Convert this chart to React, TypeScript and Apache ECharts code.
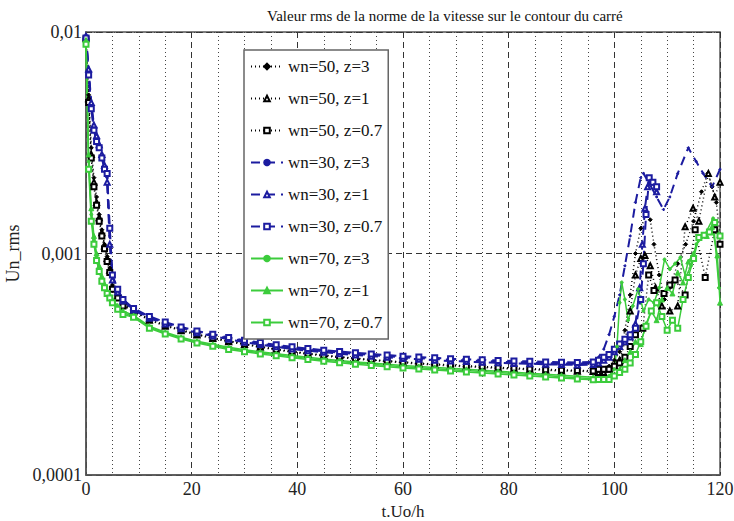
import React, { useEffect, useRef } from "react";
import * as echarts from "echarts";

const TITLE = "Valeur rms de la norme de la vitesse sur le contour du carré";
const X_NAME = "t.Uo/h";
const Y_NAME = "Un_rms";
const Y_TICK_EXP = [-4, -3, -2];
const Y_TICK_LABELS = ["0,0001", "0,001", "0,01"];
const Y_MINOR = [0.0002, 0.0003, 0.0004, 0.0005, 0.0006, 0.0007, 0.0008, 0.0009, 0.002, 0.003, 0.004, 0.005, 0.006, 0.007, 0.008, 0.009];

const NAMES = ["wn=50, z=3", "wn=50, z=1", "wn=50, z=0.7", "wn=30, z=3", "wn=30, z=1", "wn=30, z=0.7", "wn=70, z=3", "wn=70, z=1", "wn=70, z=0.7"];

const T_EARLY = [0, 0.5, 1, 1.5, 2, 2.5, 3, 3.5, 4, 4.5, 5, 6, 7];
const T_MID = [9, 12, 15, 18, 21, 24, 27, 30, 33, 36, 39, 42, 45, 48, 51, 54, 57, 60, 63, 66, 69, 72, 75, 78, 81, 84, 87, 90, 93, 96];

// wn=50 (black)
const K3_EARLY = [0.0095, 0.0052, 0.003, 0.0022, 0.0018, 0.0015, 0.00128, 0.0011, 0.00097, 0.00086, 0.00072, 0.00065, 0.0006];
const K1_EARLY = [0.0094, 0.005, 0.0028, 0.0021, 0.0017, 0.00145, 0.00124, 0.00108, 0.00095, 0.00084, 0.0007, 0.00064, 0.00059];
const K07_EARLY = [0.0093, 0.0048, 0.0027, 0.002, 0.00165, 0.0014, 0.0012, 0.00105, 0.00092, 0.00082, 0.00069, 0.00063, 0.00058];
const K3_MID = [0.00055, 0.000505, 0.000475, 0.000452, 0.000433, 0.000417, 0.000403, 0.000391, 0.00038, 0.00037, 0.000362, 0.000354, 0.000348, 0.000342, 0.000337, 0.000332, 0.000328, 0.000324, 0.00032, 0.000317, 0.000314, 0.000311, 0.000309, 0.000306, 0.000304, 0.000302, 0.0003, 0.000298, 0.000297, 0.000296];
const K1_MID = [0.000545, 0.0005, 0.00047, 0.000448, 0.000429, 0.000413, 0.0004, 0.000388, 0.000377, 0.000367, 0.000359, 0.000351, 0.000345, 0.000339, 0.000334, 0.000329, 0.000325, 0.000321, 0.000317, 0.000314, 0.000311, 0.000308, 0.000306, 0.000303, 0.000301, 0.000299, 0.000297, 0.000295, 0.000294, 0.000293];
const K07_MID = [0.000548, 0.000503, 0.000473, 0.00045, 0.000431, 0.000415, 0.000402, 0.00039, 0.000379, 0.000369, 0.000361, 0.000353, 0.000347, 0.000341, 0.000336, 0.000331, 0.000327, 0.000323, 0.000319, 0.000316, 0.000313, 0.00031, 0.000308, 0.000305, 0.000303, 0.000301, 0.000299, 0.000297, 0.000296, 0.000295];
const K3_TAIL = [[97, 0.0003], [98, 0.0003], [99, 0.00031], [100, 0.00033], [101, 0.00036], [102, 0.00045], [103, 0.00065], [104, 0.001], [105, 0.0013], [106, 0.0015], [106.8, 0.00142], [107.5, 0.0011], [108.5, 0.0008], [109.5, 0.00062], [110.5, 0.0007], [112, 0.0009], [113.5, 0.0011], [115, 0.0014], [116.5, 0.0019], [117.7, 0.0023], [118.5, 0.002], [119.3, 0.0017], [120, 0.0012]];
const K1_TAIL = [[97, 0.00029], [98, 0.00029], [99, 0.0003], [100, 0.00031], [101, 0.00033], [102, 0.0004], [103, 0.00055], [104, 0.0008], [105, 0.00095], [105.8, 0.00098], [106.8, 0.00088], [107.8, 0.0007], [109, 0.00058], [110.5, 0.00055], [112, 0.00058], [113.4, 0.00132], [114.9, 0.0016], [116, 0.0014], [117.8, 0.0023], [119, 0.0018], [120, 0.0021]];
const K07_TAIL = [[97, 0.0003], [98, 0.0003], [99, 0.0003], [100, 0.00031], [101, 0.00032], [102, 0.00034], [103, 0.00038], [104, 0.00043], [105.4, 0.00046], [106.5, 0.0008], [107.5, 0.00068], [109.4, 0.00066], [110.5, 0.00072], [111.5, 0.00076], [113.4, 0.00065], [115.3, 0.00128], [117.2, 0.00078], [119, 0.00128], [120, 0.0011]];

// wn=30 (blue)
const B3_EARLY = [0.0095, 0.0066, 0.0046, 0.0037, 0.0033, 0.003, 0.0027, 0.0025, 0.0022, 0.0012, 0.00078, 0.00068, 0.00062];
const B1_EARLY = [0.0096, 0.0068, 0.0048, 0.0038, 0.0034, 0.0031, 0.0028, 0.0025, 0.0021, 0.0011, 0.00076, 0.00067, 0.00061];
const B07_EARLY = [0.0094, 0.0064, 0.0045, 0.0036, 0.0032, 0.003, 0.0027, 0.0024, 0.0023, 0.0013, 0.0008, 0.00069, 0.00062];
const B3_MID = [0.00056, 0.000515, 0.000485, 0.000462, 0.000443, 0.000428, 0.000414, 0.000402, 0.000392, 0.000383, 0.000375, 0.000368, 0.000362, 0.000357, 0.000352, 0.000348, 0.000344, 0.00034, 0.000337, 0.000334, 0.000331, 0.000329, 0.000327, 0.000325, 0.000323, 0.000322, 0.00032, 0.000319, 0.000318, 0.00032];
const B1_MID = [0.000555, 0.00051, 0.00048, 0.000457, 0.000439, 0.000424, 0.00041, 0.000398, 0.000388, 0.000379, 0.000371, 0.000364, 0.000358, 0.000353, 0.000348, 0.000344, 0.00034, 0.000336, 0.000333, 0.00033, 0.000327, 0.000325, 0.000323, 0.000321, 0.000319, 0.000318, 0.000316, 0.000315, 0.000314, 0.000315];
const B07_MID = [0.000565, 0.00052, 0.00049, 0.000466, 0.000447, 0.000432, 0.000418, 0.000406, 0.000396, 0.000387, 0.000379, 0.000372, 0.000366, 0.000361, 0.000356, 0.000352, 0.000348, 0.000344, 0.000341, 0.000338, 0.000335, 0.000333, 0.000331, 0.000329, 0.000327, 0.000326, 0.000324, 0.000323, 0.000322, 0.000324];
const B3_TAIL = [[97, 0.00034], [98, 0.00037], [99, 0.00043], [100, 0.00052], [101, 0.00065], [102, 0.00088], [103, 0.0012], [104, 0.0017], [105, 0.0022], [105.5, 0.0023], [106.5, 0.0021], [108, 0.0018], [109.3, 0.00158], [110.5, 0.0018], [112, 0.0023], [114, 0.003], [115.5, 0.0026], [116.8, 0.0023], [118.5, 0.002], [120, 0.0024]];
const B1_TAIL = [[97, 0.00032], [98, 0.00033], [99, 0.00034], [100, 0.00036], [101, 0.00038], [102, 0.0004], [103, 0.00042], [104, 0.00048], [104.8, 0.0007], [105.3, 0.0011], [105.8, 0.0016], [106.3, 0.002], [107, 0.0021], [108, 0.0019]];
const B07_TAIL = [[97, 0.00033], [98, 0.00034], [99, 0.00035], [100, 0.00037], [101, 0.00039], [102, 0.00041], [103, 0.00043], [104, 0.00046], [105, 0.00062], [105.5, 0.0009], [106, 0.0015], [106.6, 0.0022], [107.3, 0.0021], [108, 0.002]];

// wn=70 (green)
const G3_EARLY = [0.009, 0.0026, 0.0015, 0.00115, 0.00096, 0.00085, 0.00077, 0.00071, 0.00067, 0.00064, 0.00061, 0.00057, 0.00054];
const G1_EARLY = [0.0092, 0.0028, 0.0016, 0.0012, 0.001, 0.00088, 0.00079, 0.00073, 0.00068, 0.00065, 0.00062, 0.00058, 0.00055];
const G07_EARLY = [0.0088, 0.0024, 0.0014, 0.0011, 0.00093, 0.00083, 0.00075, 0.0007, 0.00066, 0.00063, 0.0006, 0.00056, 0.00053];
const G3_MID = [0.00052, 0.000465, 0.000437, 0.000415, 0.000398, 0.000385, 0.000373, 0.000364, 0.000356, 0.000349, 0.000342, 0.000336, 0.00033, 0.000325, 0.00032, 0.000316, 0.000312, 0.000308, 0.000305, 0.000302, 0.000299, 0.000296, 0.000293, 0.00029, 0.000287, 0.000284, 0.000281, 0.000278, 0.000275, 0.000272];
const G1_MID = [0.000525, 0.00047, 0.000441, 0.000419, 0.000402, 0.000389, 0.000377, 0.000368, 0.00036, 0.000353, 0.000346, 0.00034, 0.000334, 0.000329, 0.000324, 0.00032, 0.000316, 0.000312, 0.000309, 0.000306, 0.000303, 0.0003, 0.000297, 0.000294, 0.000291, 0.000288, 0.000285, 0.000282, 0.000279, 0.000276];
const G07_MID = [0.000515, 0.00046, 0.000433, 0.000411, 0.000394, 0.000381, 0.000369, 0.00036, 0.000352, 0.000345, 0.000338, 0.000332, 0.000326, 0.000321, 0.000316, 0.000312, 0.000308, 0.000304, 0.000301, 0.000298, 0.000295, 0.000292, 0.000289, 0.000286, 0.000283, 0.00028, 0.000277, 0.000274, 0.000271, 0.000269];
const G3_TAIL = [[97, 0.00027], [98, 0.00027], [99, 0.00028], [100, 0.0003], [100.5, 0.00038], [101, 0.0006], [101.4, 0.00074], [102, 0.00062], [102.6, 0.0005], [103.5, 0.00058], [104.5, 0.00069], [105.5, 0.00055], [106.5, 0.00062], [107.5, 0.0006], [108.5, 0.0007], [109.5, 0.00094], [110.5, 0.00085], [111.5, 0.0009], [112.5, 0.00096], [113.5, 0.00078], [114.5, 0.00088], [115.5, 0.0011], [117, 0.0012], [118.7, 0.00144], [119.8, 0.0007]];
const G1_TAIL = [[97, 0.00027], [98, 0.00027], [99, 0.00027], [100, 0.00028], [101, 0.0003], [102, 0.00033], [103, 0.00036], [104, 0.0004], [105, 0.00039], [106, 0.00048], [107, 0.00055], [108, 0.0005], [109, 0.00062], [110, 0.0007], [111, 0.00066], [112, 0.00082], [113, 0.00074], [114, 0.00092], [115, 0.001], [116, 0.00118], [117.5, 0.0012], [118.5, 0.00132], [119.5, 0.00098], [120, 0.0006]];
const G07_TAIL = [[97, 0.00027], [98, 0.00027], [99, 0.00027], [100, 0.00028], [101, 0.00029], [102, 0.0003], [103, 0.00032], [104, 0.00035], [105, 0.0004], [106, 0.00047], [107, 0.00055], [108, 0.0006], [109, 0.00052], [110, 0.00045], [111, 0.0005], [112, 0.00046], [113, 0.00062], [114, 0.00078], [115, 0.00095], [116, 0.00118], [117, 0.00121], [118, 0.00125], [119, 0.00138], [120, 0.0012]];

const FONT = "'Liberation Serif', 'Times New Roman', serif";
const BLACK = "#000000";
const BLUE = "#1c1ca0";
const GREEN = "#3ccc3c";

function build(early: number[], mid: number[], tail: number[][]) {
  const out: number[][] = [];
  T_EARLY.forEach((t, i) => out.push([t, early[i]]));
  T_MID.forEach((t, i) => out.push([t, mid[i]]));
  tail.forEach((p) => out.push([p[0], p[1]]));
  return out;
}

const SERIES_DEF = [
  { data: build(K3_EARLY, K3_MID, K3_TAIL), color: BLACK, type: [1, 3], width: 1.5, symbol: "diamond", size: 4 },
  { data: build(K1_EARLY, K1_MID, K1_TAIL), color: BLACK, type: [1, 3], width: 1.5, symbol: "emptyTriangle", size: 5 },
  { data: build(K07_EARLY, K07_MID, K07_TAIL), color: BLACK, type: [1, 3], width: 1.5, symbol: "emptyRect", size: 5 },
  { data: build(B3_EARLY, B3_MID, B3_TAIL), color: BLUE, type: [9, 6], width: 2, symbol: "circle", size: 2 },
  { data: build(B1_EARLY, B1_MID, B1_TAIL), color: BLUE, type: [9, 6], width: 2, symbol: "emptyTriangle", size: 5 },
  { data: build(B07_EARLY, B07_MID, B07_TAIL), color: BLUE, type: [9, 6], width: 2, symbol: "emptyRect", size: 5 },
  { data: build(G3_EARLY, G3_MID, G3_TAIL), color: GREEN, type: "solid", width: 1.5, symbol: "circle", size: 3 },
  { data: build(G1_EARLY, G1_MID, G1_TAIL), color: GREEN, type: "solid", width: 1.5, symbol: "triangle", size: 5 },
  { data: build(G07_EARLY, G07_MID, G07_TAIL), color: GREEN, type: "solid", width: 1.5, symbol: "emptyRect", size: 5 },
];

export default function App() {
  const ref = useRef<HTMLDivElement>(null);
  useEffect(() => {
    if (!ref.current) return;
    const chart = echarts.init(ref.current, undefined, { renderer: "svg" });
    const series: any[] = [
      {
        name: "minor-grid",
        type: "line",
        data: [[0, 0.001]],
        symbol: "none",
        lineStyle: { opacity: 0 },
        silent: true,
        z: 1,
        markLine: {
          silent: true,
          symbol: "none",
          label: { show: false },
          lineStyle: { type: [1, 3], color: "#444", width: 1 },
          data: Y_MINOR.map((v) => ({ yAxis: v })),
        },
      },
    ];
    SERIES_DEF.forEach((d, i) => {
      series.push({
        name: NAMES[i],
        type: "line",
        data: d.data,
        symbol: d.symbol,
        symbolSize: d.size,
        showSymbol: true,
        color: d.color,
        itemStyle: { color: d.color, borderColor: d.color, borderWidth: 1 },
        lineStyle: { color: d.color, type: d.type, width: d.width },
        z: 3,
      });
    });
    chart.setOption({
      animation: false,
      backgroundColor: "#ffffff",
      title: {
        text: TITLE,
        left: 262,
        top: 3,
        textStyle: { fontFamily: FONT, fontSize: 15, fontWeight: "normal", color: "#111" },
      },
      grid: {
        left: 86,
        right: 14,
        top: 32,
        bottom: 46,
        containLabel: false,
        outerBoundsMode: "none",
        show: true,
        borderColor: "#555",
        borderWidth: 1.5,
        backgroundColor: "transparent",
      },
      legend: {
        data: NAMES,
        orient: "vertical",
        left: 244,
        top: 50,
        itemWidth: 32,
        itemHeight: 7,
        itemGap: 15,
        padding: [8, 6, 8, 6],
        backgroundColor: "#ffffff",
        borderColor: "#666",
        borderWidth: 1.5,
        textStyle: { fontFamily: FONT, fontSize: 17, color: "#111" },
      },
      xAxis: {
        type: "value",
        min: 0,
        max: 120,
        interval: 20,
        name: X_NAME,
        nameLocation: "middle",
        nameGap: 24,
        nameTextStyle: { fontFamily: FONT, fontSize: 17, color: "#222" },
        axisLine: { show: true, lineStyle: { color: "#555", width: 1.5 } },
        axisTick: { show: false },
        axisLabel: { margin: 5, fontFamily: FONT, fontSize: 18, color: "#222" },
        splitLine: { show: true, lineStyle: { type: [6, 4], color: "#333", width: 1 } },
        minorTick: { show: false, splitNumber: 4 },
        minorSplitLine: { show: true, lineStyle: { type: [1, 3], color: "#444", width: 1 } },
      },
      yAxis: {
        type: "log",
        logBase: 10,
        min: 0.0001,
        max: 0.01,
        name: Y_NAME,
        nameLocation: "middle",
        nameGap: 60,
        nameRotate: 90,
        nameTextStyle: { fontFamily: FONT, fontSize: 18, color: "#222" },
        axisLine: { show: true, lineStyle: { color: "#555", width: 1.5 } },
        axisTick: { show: false },
        axisLabel: {
          margin: 4,
          fontFamily: FONT,
          fontSize: 18,
          color: "#222",
          formatter: (v: number) => {
            const e = Math.round(Math.log10(v));
            const idx = Y_TICK_EXP.indexOf(e);
            return idx >= 0 ? Y_TICK_LABELS[idx] : "";
          },
        },
        splitLine: { show: true, lineStyle: { type: [6, 4], color: "#333", width: 1 } },
      },
      series,
    });
    return () => chart.dispose();
  }, []);
  return <div ref={ref} style={{ position: "fixed", left: 0, top: 0, width: 734, height: 521 }} />;
}
